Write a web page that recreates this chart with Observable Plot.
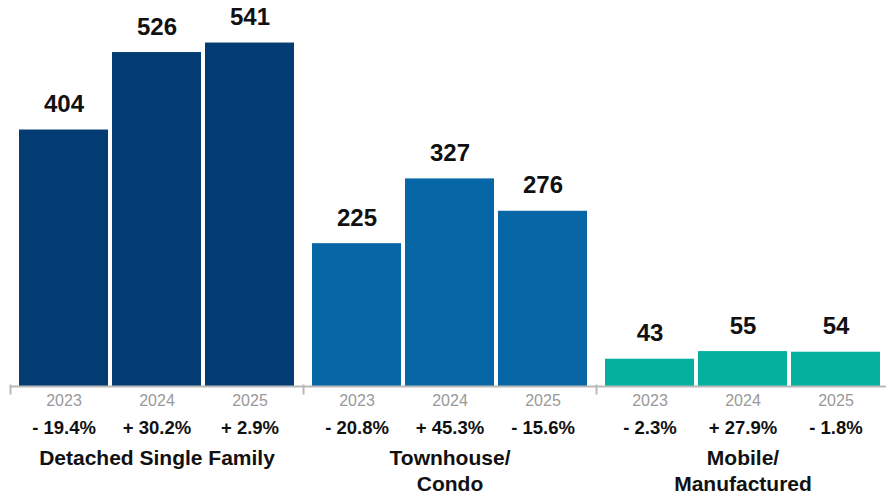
<!DOCTYPE html>
<html>
<head>
<meta charset="utf-8">
<script src="https://cdn.jsdelivr.net/npm/d3@7"></script>
<script src="https://cdn.jsdelivr.net/npm/@observablehq/plot@0.6"></script>
<style>
  html, body { margin: 0; padding: 0; background: #fff; }
  #chart svg { display: block; }
</style>
</head>
<body>
<div id="chart"></div>
<script>
const groups = ["Detached Single Family", "Townhouse/\nCondo", "Mobile/\nManufactured"];
const years = ["2023", "2024", "2025"];
const detachedValues = [404, 526, 541];
const townhouseValues = [225, 327, 276];
const mobileValues = [43, 55, 54];
const detachedChange = ["- 19.4%", "+ 30.2%", "+ 2.9%"];
const townhouseChange = ["- 20.8%", "+ 45.3%", "- 15.6%"];
const mobileChange = ["- 2.3%", "+ 27.9%", "- 1.8%"];

const groupColors = ["#033c73", "#0767a6", "#05b09f"];
const valueSets = [detachedValues, townhouseValues, mobileValues];
const changeSets = [detachedChange, townhouseChange, mobileChange];

const data = [];
groups.forEach((g, gi) => {
  years.forEach((y, yi) => {
    data.push({group: g, year: y, value: valueSets[gi][yi], change: changeSets[gi][yi]});
  });
});

const font = "'Liberation Sans', Arial, Helvetica, sans-serif";

const chart = Plot.plot({
  width: 886,
  height: 496,
  marginTop: 0,
  marginBottom: 110,
  marginLeft: 10,
  marginRight: -3,
  style: {fontFamily: font, background: "#fff"},
  fx: {domain: groups, paddingInner: 0, paddingOuter: 0, axis: null},
  x: {domain: years, paddingInner: 0.045, paddingOuter: 0.095, axis: null},
  y: {domain: [0, 608], axis: null},
  color: {domain: groups, range: groupColors},
  marks: [
    Plot.barY(data, {fx: "group", x: "year", y: "value", fill: "group"}),
    Plot.ruleY([0], {stroke: "#b9b9b9", strokeWidth: 2}),
    Plot.frame({anchor: "left", stroke: "#b9b9b9", strokeWidth: 2, insetTop: 385, insetBottom: -7}),
    Plot.text(data, {fx: "group", x: "year", y: "value", text: d => String(d.value), lineAnchor: "bottom", dy: -18, fontSize: 24, fontWeight: "bold", fill: "#111"}),
    Plot.text(data, {fx: "group", x: "year", text: "year", frameAnchor: "bottom", dy: 19, fontSize: 16, fill: "#999"}),
    Plot.text(data, {fx: "group", x: "year", text: "change", frameAnchor: "bottom", dy: 47, fontSize: 18.5, fontWeight: "bold", fill: "#111"}),
    Plot.text(groups, {fx: d => d, text: d => d, frameAnchor: "bottom", dy: 60, lineAnchor: "top", lineHeight: 1.24, fontSize: 21, fontWeight: "bold", fill: "#111"})
  ]
});
document.getElementById("chart").appendChild(chart);
</script>
</body>
</html>
